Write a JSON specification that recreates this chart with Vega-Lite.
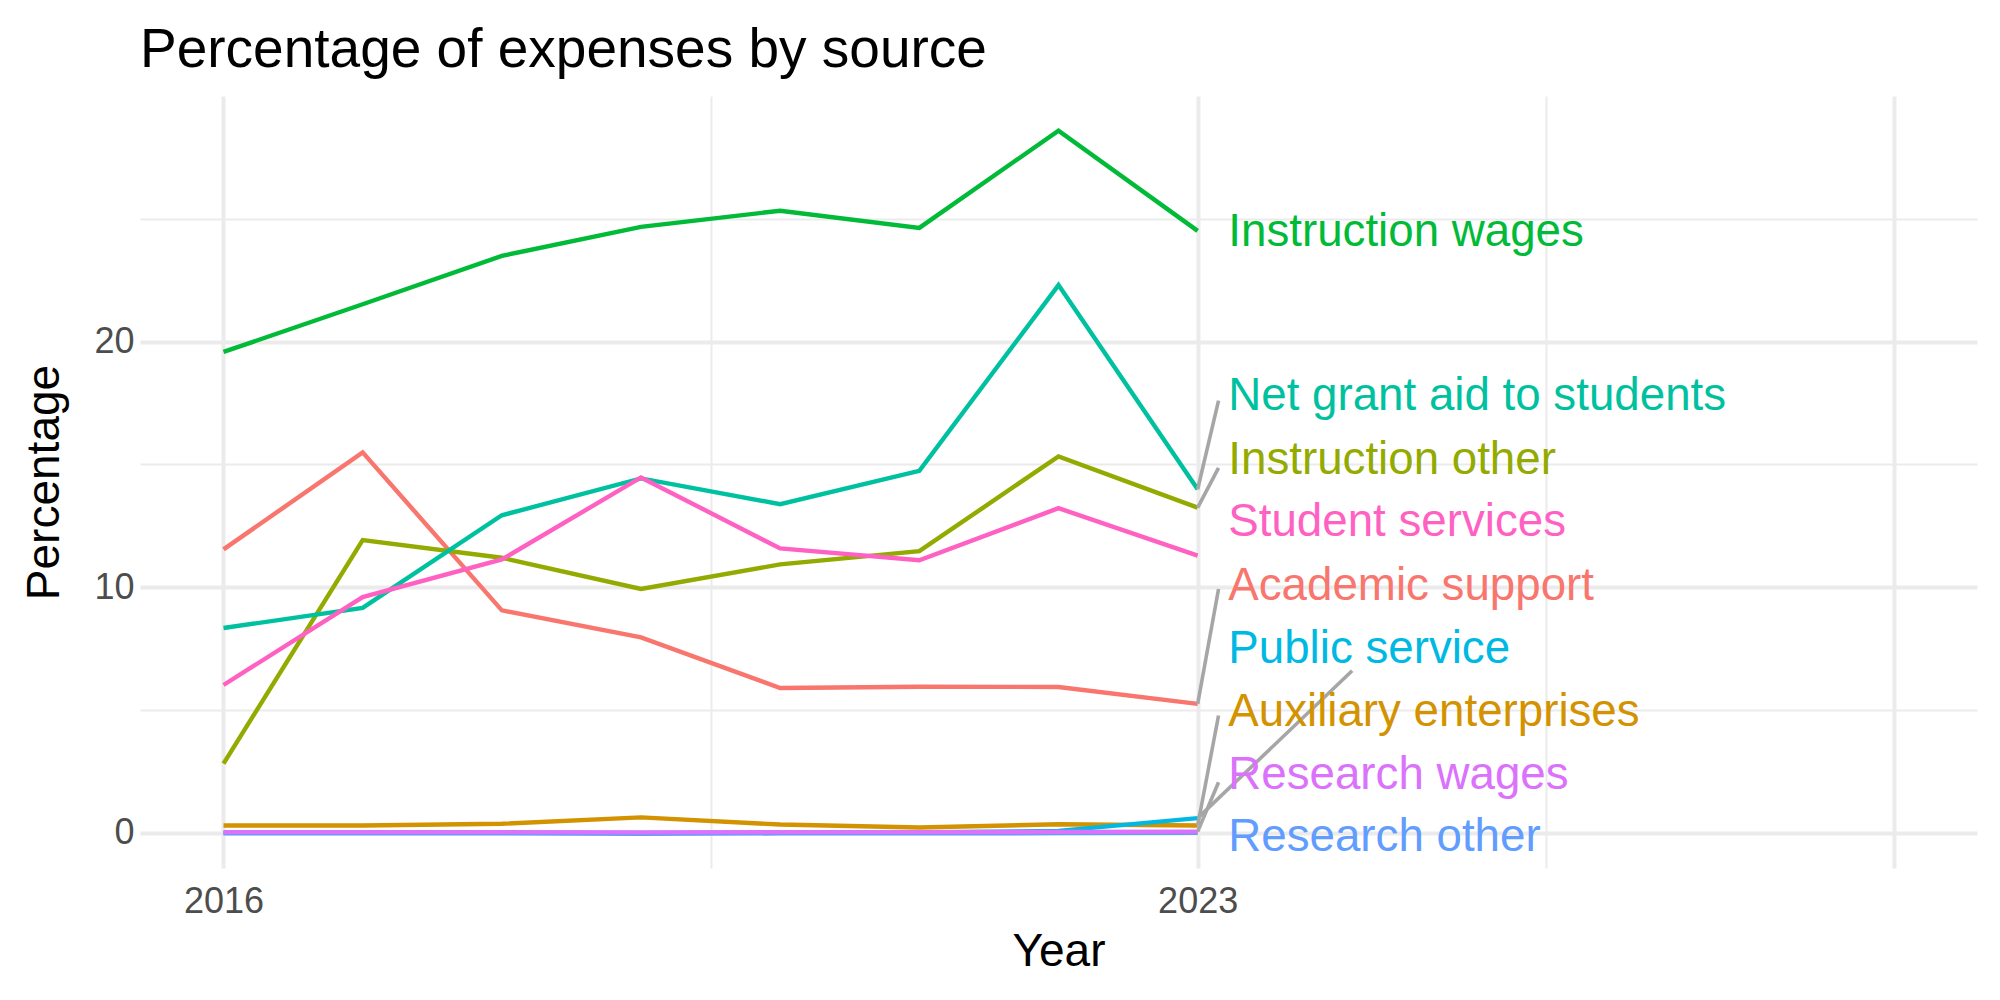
{
  "$schema": "https://vega.github.io/schema/vega-lite/v6.json",
  "width": 1837,
  "height": 772,
  "autosize": "none",
  "padding": {"left": 140, "top": 96, "right": 23, "bottom": 132},
  "background": "white",
  "title": {
    "text": "Percentage of expenses by source",
    "anchor": "start",
    "frame": "group",
    "font": "Liberation Sans",
    "fontSize": 55,
    "fontWeight": "normal",
    "color": "black",
    "baseline": "bottom",
    "offset": 22,
    "dy": 60
  },
  "config": {
    "view": {"stroke": null},
    "axis": {
      "domain": false,
      "ticks": false,
      "gridColor": "#EBEBEB",
      "labelFont": "Liberation Sans",
      "labelFontSize": 36,
      "labelColor": "#4D4D4D",
      "titleFont": "Liberation Sans",
      "titleFontSize": 46,
      "titleFontWeight": "normal",
      "titleColor": "black"
    }
  },
  "datasets": {
    "series": [
      {"year": 2016, "source": "Academic support", "pct": 11.54},
      {"year": 2017, "source": "Academic support", "pct": 15.49},
      {"year": 2018, "source": "Academic support", "pct": 9.06},
      {"year": 2019, "source": "Academic support", "pct": 7.96},
      {"year": 2020, "source": "Academic support", "pct": 5.9},
      {"year": 2021, "source": "Academic support", "pct": 5.95},
      {"year": 2022, "source": "Academic support", "pct": 5.94},
      {"year": 2023, "source": "Academic support", "pct": 5.25},
      {"year": 2016, "source": "Auxiliary enterprises", "pct": 0.3},
      {"year": 2017, "source": "Auxiliary enterprises", "pct": 0.3},
      {"year": 2018, "source": "Auxiliary enterprises", "pct": 0.37},
      {"year": 2019, "source": "Auxiliary enterprises", "pct": 0.63},
      {"year": 2020, "source": "Auxiliary enterprises", "pct": 0.34},
      {"year": 2021, "source": "Auxiliary enterprises", "pct": 0.22},
      {"year": 2022, "source": "Auxiliary enterprises", "pct": 0.35},
      {"year": 2023, "source": "Auxiliary enterprises", "pct": 0.3},
      {"year": 2016, "source": "Instruction other", "pct": 2.82},
      {"year": 2017, "source": "Instruction other", "pct": 11.92},
      {"year": 2018, "source": "Instruction other", "pct": 11.2},
      {"year": 2019, "source": "Instruction other", "pct": 9.93},
      {"year": 2020, "source": "Instruction other", "pct": 10.93},
      {"year": 2021, "source": "Instruction other", "pct": 11.47},
      {"year": 2022, "source": "Instruction other", "pct": 15.33},
      {"year": 2023, "source": "Instruction other", "pct": 13.24},
      {"year": 2016, "source": "Instruction wages", "pct": 19.58},
      {"year": 2017, "source": "Instruction wages", "pct": 21.52},
      {"year": 2018, "source": "Instruction wages", "pct": 23.49},
      {"year": 2019, "source": "Instruction wages", "pct": 24.67},
      {"year": 2020, "source": "Instruction wages", "pct": 25.33},
      {"year": 2021, "source": "Instruction wages", "pct": 24.63},
      {"year": 2022, "source": "Instruction wages", "pct": 28.59},
      {"year": 2023, "source": "Instruction wages", "pct": 24.51},
      {"year": 2016, "source": "Net grant aid to students", "pct": 8.34},
      {"year": 2017, "source": "Net grant aid to students", "pct": 9.16},
      {"year": 2018, "source": "Net grant aid to students", "pct": 12.93},
      {"year": 2019, "source": "Net grant aid to students", "pct": 14.43},
      {"year": 2020, "source": "Net grant aid to students", "pct": 13.38},
      {"year": 2021, "source": "Net grant aid to students", "pct": 14.74},
      {"year": 2022, "source": "Net grant aid to students", "pct": 22.3},
      {"year": 2023, "source": "Net grant aid to students", "pct": 13.99},
      {"year": 2016, "source": "Public service", "pct": 0.0},
      {"year": 2017, "source": "Public service", "pct": 0.0},
      {"year": 2018, "source": "Public service", "pct": 0.0},
      {"year": 2019, "source": "Public service", "pct": 0.0},
      {"year": 2020, "source": "Public service", "pct": 0.0},
      {"year": 2021, "source": "Public service", "pct": 0.02},
      {"year": 2022, "source": "Public service", "pct": 0.08},
      {"year": 2023, "source": "Public service", "pct": 0.6},
      {"year": 2016, "source": "Research other", "pct": -0.02},
      {"year": 2017, "source": "Research other", "pct": -0.02},
      {"year": 2018, "source": "Research other", "pct": -0.02},
      {"year": 2019, "source": "Research other", "pct": -0.04},
      {"year": 2020, "source": "Research other", "pct": -0.02},
      {"year": 2021, "source": "Research other", "pct": -0.02},
      {"year": 2022, "source": "Research other", "pct": -0.01},
      {"year": 2023, "source": "Research other", "pct": 0.0},
      {"year": 2016, "source": "Research wages", "pct": 0.03},
      {"year": 2017, "source": "Research wages", "pct": 0.03},
      {"year": 2018, "source": "Research wages", "pct": 0.03},
      {"year": 2019, "source": "Research wages", "pct": 0.02},
      {"year": 2020, "source": "Research wages", "pct": 0.03},
      {"year": 2021, "source": "Research wages", "pct": 0.03},
      {"year": 2022, "source": "Research wages", "pct": 0.04},
      {"year": 2023, "source": "Research wages", "pct": 0.05},
      {"year": 2016, "source": "Student services", "pct": 6.02},
      {"year": 2017, "source": "Student services", "pct": 9.6},
      {"year": 2018, "source": "Student services", "pct": 11.13},
      {"year": 2019, "source": "Student services", "pct": 14.47},
      {"year": 2020, "source": "Student services", "pct": 11.58},
      {"year": 2021, "source": "Student services", "pct": 11.1},
      {"year": 2022, "source": "Student services", "pct": 13.22},
      {"year": 2023, "source": "Student services", "pct": 11.29}
    ],
    "labels": [
      {"source": "Instruction wages", "lx": 2023.22, "ly": 24.45},
      {"source": "Net grant aid to students", "lx": 2023.22, "ly": 17.77},
      {"source": "Instruction other", "lx": 2023.22, "ly": 15.2},
      {"source": "Student services", "lx": 2023.22, "ly": 12.65},
      {"source": "Academic support", "lx": 2023.22, "ly": 10.05},
      {"source": "Public service", "lx": 2023.22, "ly": 7.5},
      {"source": "Auxiliary enterprises", "lx": 2023.22, "ly": 4.92},
      {"source": "Research wages", "lx": 2023.22, "ly": 2.36},
      {"source": "Research other", "lx": 2023.22, "ly": -0.18}
    ],
    "segments": [
      {"source": "Net grant aid to students", "x0": 2023, "y0": 13.99, "x1": 2023.15, "y1": 17.6},
      {"source": "Instruction other", "x0": 2023, "y0": 13.24, "x1": 2023.15, "y1": 14.86},
      {"source": "Academic support", "x0": 2023, "y0": 5.25, "x1": 2023.15, "y1": 9.93},
      {"source": "Public service", "x0": 2023, "y0": 0.6, "x1": 2024.11, "y1": 6.6},
      {"source": "Auxiliary enterprises", "x0": 2023, "y0": 0.3, "x1": 2023.15, "y1": 4.78},
      {"source": "Research wages", "x0": 2023, "y0": 0.05, "x1": 2023.15, "y1": 2.06}
    ]
  },
  "layer": [
    {
      "data": {"name": "series"},
      "mark": {"type": "line", "strokeWidth": 4.4},
      "encoding": {
        "x": {
          "field": "year",
          "type": "quantitative",
          "scale": {"domain": [2015.4, 2028.6], "nice": false, "zero": false},
          "axis": {
            "title": "Year",
            "values": [2016, 2019.5, 2023, 2025.5, 2028],
            "labelExpr": "(datum.value == 2016 || datum.value == 2023) ? format(datum.value, 'd') : ''",
            "labelPadding": 16,
            "titlePadding": 10,
            "gridWidth": {"condition": {"test": "datum.value == 2019.5 || datum.value == 2025.5", "value": 2}, "value": 4}
          }
        },
        "y": {
          "field": "pct",
          "type": "quantitative",
          "scale": {"domain": [-1.43, 30.0], "nice": false, "zero": false},
          "axis": {
            "title": "Percentage",
            "values": [0, 5, 10, 15, 20, 25],
            "labelExpr": "(datum.value == 0 || datum.value == 10 || datum.value == 20) ? format(datum.value, 'd') : ''",
            "labelPadding": 6,
            "titlePadding": 25,
            "gridWidth": {"condition": {"test": "datum.value == 5 || datum.value == 15 || datum.value == 25", "value": 2}, "value": 4}
          }
        },
        "color": {
          "field": "source",
          "type": "nominal",
          "scale": {
            "domain": ["Academic support", "Auxiliary enterprises", "Instruction other", "Instruction wages", "Net grant aid to students", "Public service", "Research other", "Research wages", "Student services"],
            "range": ["#F8766D", "#D39200", "#93AA00", "#00BA38", "#00C19F", "#00B9E3", "#619CFF", "#DB72FB", "#FF61C3"]
          },
          "legend": null
        }
      }
    },
    {
      "data": {"name": "segments"},
      "mark": {"type": "rule", "color": "#A6A6A6", "strokeWidth": 3.6},
      "encoding": {
        "x": {"field": "x0", "type": "quantitative"},
        "x2": {"field": "x1"},
        "y": {"field": "y0", "type": "quantitative"},
        "y2": {"field": "y1"}
      }
    },
    {
      "data": {"name": "labels"},
      "mark": {"type": "text", "align": "left", "baseline": "middle", "font": "Liberation Sans", "fontSize": 45.7},
      "encoding": {
        "x": {"field": "lx", "type": "quantitative"},
        "y": {"field": "ly", "type": "quantitative"},
        "text": {"field": "source"},
        "color": {"field": "source", "type": "nominal", "legend": null}
      }
    }
  ]
}
